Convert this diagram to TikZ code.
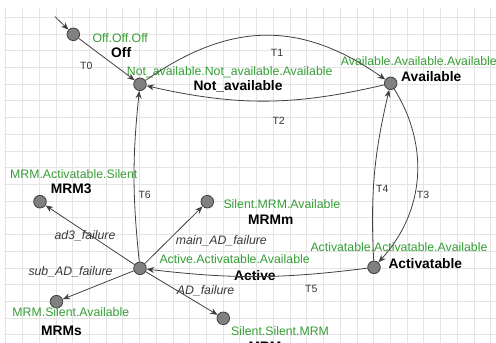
\documentclass[tikz,border=0pt]{standalone}
\usepackage{fontspec}
\setmainfont{Liberation Sans}
\usepackage{tikz}
\usetikzlibrary{arrows.meta, calc, positioning}
\definecolor{gridgray}{RGB}{228,228,228}
\definecolor{vecgreen}{RGB}{52,158,52}
\definecolor{edgegray}{RGB}{64,64,64}
\definecolor{dotgray}{RGB}{128,128,128}
\tikzset{
	x=1pt, y=1pt,
	state/.style ={circle, draw=edgegray, fill=dotgray, line width=0.8pt, minimum size=12.6pt, inner sep=0pt},
	tr/.style = {-{Stealth[length=7.5pt, width=6pt]}, draw=edgegray, line width=0.8pt},
	vec/.style = {anchor=base west, inner sep=0pt, text=vecgreen, font=\fontsize{12.3}{14}\selectfont},
	sname/.style = {anchor=base west, inner sep=0pt, text=black, font=\fontsize{13.8}{16}\selectfont\bfseries},
	tlab/.style = {anchor=base west, inner sep=0pt, text=black!80, font=\fontsize{10.5}{12}\selectfont},
	el/.style = {anchor=base west, inner sep=0pt, text=black!78, font=\fontsize{12.3}{14}\selectfont\itshape},
	gridline/.style = {draw=gridgray, line width=1pt}
}

\begin{document}
\begin{tikzpicture}
		\useasboundingbox (0,0) rectangle (496,-343);
		\clip (0,0) rectangle (496,-343);
		
		% grid
		\foreach \i in {0,...,29}
			\draw[gridline] ({5.9+16.72*\i},-8) -- ({5.9+16.72*\i},-343);
		\foreach \j in {0,...,19}
			\draw[gridline] (4,{-17.3-16.72*\j}) -- (496,{-17.3-16.72*\j});
		
		% states
		\coordinate (init) at (55, -16.7);
		\node[state] (off) at (73.3, -34.3) {};
		\node[state] (na) at (140, -84.3) {};
		\node[state] (av) at (390.7, -83.3) {};
		\node[state] (atb) at (374, -267.3) {};
		\node[state] (act) at (140, -268.3) {};
		\node[state] (mrm3) at (40, -201.7) {};
		\node[state] (mrmm) at (207.3, -201.7) {};
		\node[state] (mrms) at (56.5, -301.7) {};
		\node[state] (mrmms) at (223.3, -318.3) {};
		
		% state texts
		\node[vec] (voff) at (92.3, -42.7) {Off.Off.Off};
		\node[sname] (noff) at (111, -57.7) {Off};
		\node[vec] (vna) at (126.7, -75) {Not\_available.Not\_available.Available};
		\node[sname] (nna) at (193.3, -90.7) {Not\_available};
		\node[vec] (vav) at (340.7, -65) {Available.Available.Available};
		\node[sname] (nav) at (401, -81.7) {Available};
		\node[vec] (vatb) at (310.3, -251) {Activatable.Activatable.Available};
		\node[sname] (natb) at (388.3, -268.3) {Activatable};
		\node[vec] (vact) at (159.3, -263.3) {Active.Activatable.Available};
		\node[sname] (nact) at (234, -280.7) {Active};
		\node[vec] (vmrm3) at (10, -178.3) {MRM.Activatable.Silent};
		\node[sname] (nmrm3) at (50.7, -193.3) {MRM3};
		\node[vec] (vmrmm) at (223.3, -208.5) {Silent.MRM.Available};
		\node[sname] (nmrmm) at (248, -224) {MRMm};
		\node[vec] (vmrms) at (12.3, -316.7) {MRM.Silent.Available};
		\node[sname] (nmrms) at (41, -335) {MRMs};
		\node[vec] (vmrmms) at (231, -335) {Silent.Silent.MRM};
		\node[sname] (nmrmms) at (248.3, -351.5) {MRMms};
		
		% transitions
		\path (init) edge[tr] (off);
		\path (off) edge[tr] (na);
		\path (na) edge[tr, out=35, in=145, looseness=1.1] (av);
		\path (av) edge[tr, bend left=13] (na);
		\path (av) edge[tr, bend left=37] (atb);
		\path (atb) edge[tr, bend left=8] (av);
		\path (atb) edge[tr, bend left=7] (act);
		\path (act) edge[tr, bend left=6] (na);
		\path (act) edge[tr] (mrm3);
		\path (act) edge[tr] (mrmm);
		\path (act) edge[tr] (mrms);
		\path (act) edge[tr] (mrmms);
		
		% transition labels
		\node[tlab] (t0) at (80, -69) {T0};
		\node[tlab] (t1) at (270.7, -56) {T1};
		\node[tlab] (t2) at (272.3, -124) {T2};
		\node[tlab] (t3) at (416.7, -198.7) {T3};
		\node[tlab] (t4) at (376, -192.7) {T4};
		\node[tlab] (t5) at (305, -292.7) {T5};
		\node[tlab] (t6) at (138.3, -198.3) {T6};
		\node[el] (lad3) at (54.3, -239.3) {ad3\_failure};
		\node[el] (lsub) at (28.3, -275.7) {sub\_AD\_failure};
		\node[el] (lmain) at (175.7, -244) {main\_AD\_failure};
		\node[el] (lad) at (176.7, -294) {AD\_failure};
\end{tikzpicture}
\end{document}
